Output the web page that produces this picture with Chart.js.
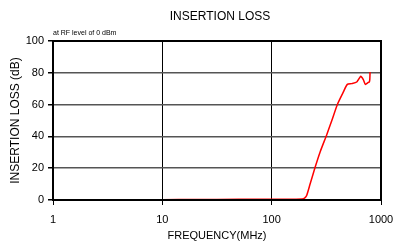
<!DOCTYPE html>
<html>
<head>
<meta charset="utf-8">
<script src="https://cdn.jsdelivr.net/npm/chart.js@4/dist/chart.umd.min.js"></script>
<style>
  html, body { margin: 0; padding: 0; background: #fff; }
  #wrap { width: 395px; height: 243px; position: relative; }
</style>
</head>
<body>
<div id="wrap"><canvas id="chart"></canvas></div>
<script>
// frequency in MHz, insertion loss in dB
const freqMHz = [10, 20, 50, 100, 150, 190, 200, 209, 225, 250, 277, 319, 355, 399, 453, 492, 540, 600, 653, 689, 719, 766, 782, 790, 794];
const lossDb = [0.2, 0.3, 0.4, 0.5, 0.5, 0.6, 1.2, 2.8, 10.2, 20.7, 30.1, 41.1, 50, 60.1, 68, 72.7, 73.2, 74.2, 77.8, 75.7, 72.7, 74, 74.2, 76, 80.5];
const xTicks = [1, 10, 100, 1000];
const yTicks = [0, 20, 40, 60, 80, 100];

const font = "Arial, 'Liberation Sans', sans-serif";

const frameAndText = {
  id: "frameAndText",
  afterDraw(chart) {
    const { ctx, chartArea: a } = chart;
    ctx.save();
    ctx.strokeStyle = "#000";
    ctx.lineWidth = 2;
    ctx.strokeRect(a.left, a.top, a.right - a.left, a.bottom - a.top);
    ctx.fillStyle = "#000";
    ctx.font = "12px " + font;
    ctx.textAlign = "center";
    ctx.textBaseline = "middle";
    ctx.fillText("INSERTION LOSS", (a.left + a.right) / 2 + 3, 17);
    ctx.font = "7px " + font;
    ctx.textAlign = "left";
    ctx.fillText("at RF level of 0 dBm", a.left, 33);
    ctx.restore();
  }
};

new Chart(document.getElementById("chart"), {
  type: "line",
  data: {
    datasets: [{
      data: freqMHz.map((f, i) => ({ x: f, y: lossDb[i] })),
      borderColor: "#ff0000",
      borderWidth: 1.5,
      pointRadius: 0,
      tension: 0.2,
      fill: false
    }]
  },
  options: {
    responsive: true,
    maintainAspectRatio: false,
    animation: false,
    layout: { padding: { top: 41, right: 14, left: 0, bottom: 0 } },
    plugins: { legend: { display: false }, tooltip: { enabled: false }, title: { display: false } },
    scales: {
      x: {
        type: "logarithmic",
        min: 1,
        max: 1000,
        afterBuildTicks: (s) => { s.ticks = xTicks.map((v) => ({ value: v })); },
        afterFit: (s) => { s.height = 43; s.paddingLeft = 0; s.paddingRight = 0; },
        ticks: {
          color: "#000",
          font: { family: font, size: 11 },
          padding: 8,
          maxRotation: 0,
          autoSkip: false,
          callback: (v) => String(v)
        },
        grid: { color: "#000", lineWidth: 1, tickLength: 5, tickColor: "#000" },
        border: { color: "#000", width: 2 },
        title: {
          display: true,
          text: "FREQUENCY(MHz)",
          color: "#000",
          font: { family: font, size: 11 },
          padding: { top: 0, bottom: 0 }
        }
      },
      y: {
        min: 0,
        max: 100,
        afterBuildTicks: (s) => { s.ticks = yTicks.map((v) => ({ value: v })); },
        afterFit: (s) => { s.width = 53; s.paddingTop = 0; s.paddingBottom = 0; },
        ticks: {
          color: "#000",
          font: { family: font, size: 11 },
          padding: 4
        },
        grid: { color: "#555", lineWidth: 1.5, tickLength: 5, tickColor: "#000" },
        border: { color: "#000", width: 2 },
        title: {
          display: true,
          text: "INSERTION LOSS (dB)",
          color: "#000",
          font: { family: font, size: 12 },
          padding: { top: 8, bottom: 4 }
        }
      }
    }
  },
  plugins: [frameAndText]
});
</script>
</body>
</html>
